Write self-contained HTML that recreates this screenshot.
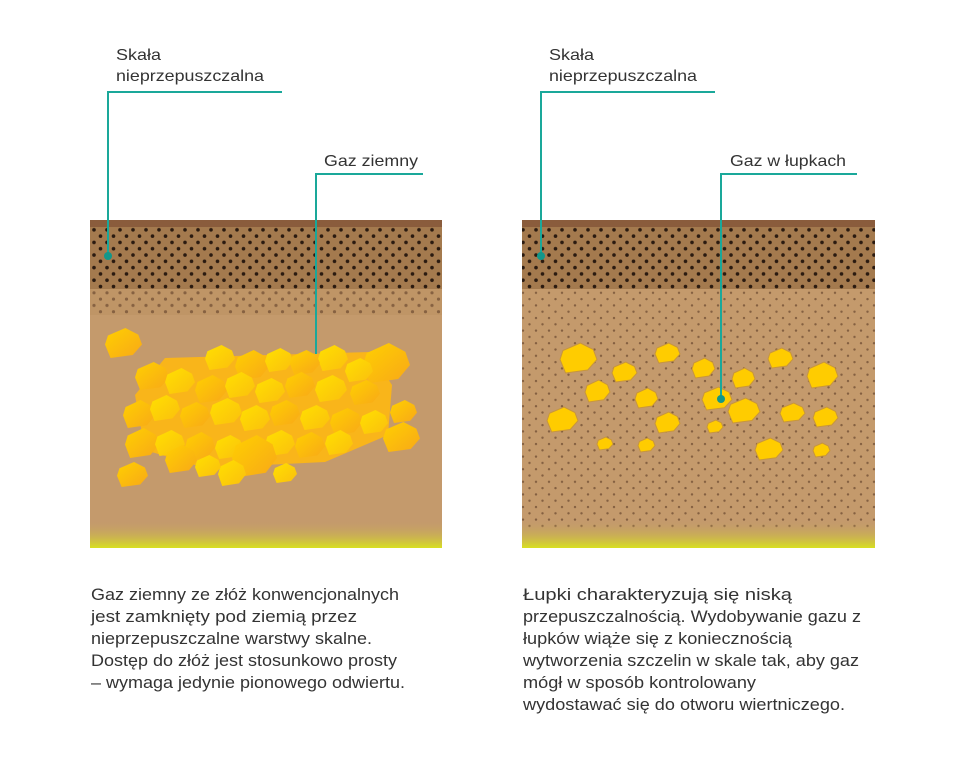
<!DOCTYPE html>
<html><head><meta charset="utf-8"><style>html,body{margin:0;padding:0;background:#fff}svg{display:block}</style></head>
<body>
<svg width="960" height="758" viewBox="0 0 960 758" xmlns="http://www.w3.org/2000/svg" font-family="Liberation Sans, Arial, sans-serif">
<defs>
<pattern id="pd" x="0" y="0" width="13" height="12.6" patternUnits="userSpaceOnUse">
<circle cx="3" cy="3" r="1.8" fill="#2a1a10"/><circle cx="9.5" cy="9.3" r="1.8" fill="#2a1a10"/></pattern>
<pattern id="pl" x="0" y="0" width="13" height="12.6" patternUnits="userSpaceOnUse">
<circle cx="3" cy="3" r="1.6" fill="#6e4c32" opacity="0.7"/><circle cx="9.5" cy="9.3" r="1.6" fill="#6e4c32" opacity="0.7"/></pattern>
<pattern id="ps" x="0" y="0" width="13" height="12.6" patternUnits="userSpaceOnUse">
<circle cx="3" cy="3" r="1.2" fill="#6e4c32" opacity="0.75"/><circle cx="9.5" cy="9.3" r="1.2" fill="#6e4c32" opacity="0.75"/></pattern>
<linearGradient id="yb" x1="0" y1="0" x2="0" y2="1"><stop offset="0" stop-color="#c49a6c" stop-opacity="0"/><stop offset="1" stop-color="#d8e020"/></linearGradient>
<linearGradient id="rg" x1="0" y1="0" x2="1" y2="1"><stop offset="0" stop-color="#ffd000"/><stop offset="1" stop-color="#f8a818"/></linearGradient>
<linearGradient id="rg2" x1="0" y1="0" x2="1" y2="1"><stop offset="0" stop-color="#ffe000"/><stop offset="1" stop-color="#fbbf0e"/></linearGradient>
<polygon id="r" points="0.08,0.25 0.55,0 0.9,0.22 1,0.55 0.75,0.9 0.15,1 0,0.55"/>
<polygon id="rs" points="0.08,0.25 0.55,0 0.9,0.22 1,0.55 0.75,0.9 0.15,1 0,0.55" fill="#ffcc00" stroke="#c8963c" stroke-width="1" vector-effect="non-scaling-stroke"/>
</defs>

<!-- left panel -->
<rect x="90" y="220" width="352" height="328" fill="#c49a6c"/>
<rect x="90" y="289" width="352" height="26" fill="#bf9566"/>
<rect x="90" y="289" width="352" height="26" fill="url(#pl)"/>
<rect x="90" y="227" width="352" height="62" fill="#a47a4e"/>
<rect x="90" y="227" width="352" height="62" fill="url(#pd)"/>
<rect x="90" y="220" width="352" height="7" fill="#8a5c3c"/>
<rect x="90" y="520" width="352" height="28" fill="url(#yb)"/>

<g>
<path d="M135,395 L165,358 L370,352 L392,385 L388,435 L325,462 L205,468 L145,450 Z" fill="#f9b51a"/>
<use href="#r" fill="url(#rg)" transform="translate(105,328) scale(37,30)"/>
<use href="#r" fill="url(#rg)" transform="translate(363,343) scale(47,40)"/>
<use href="#r" fill="url(#rg)" transform="translate(117,462) scale(31,25)"/>
<use href="#r" fill="url(#rg2)" transform="translate(273,463) scale(24,20)"/>
<use href="#r" fill="url(#rg)" transform="translate(383,422) scale(37,30)"/>
<use href="#r" fill="url(#rg)" transform="translate(390,400) scale(27,23)"/>
<use href="#r" fill="url(#rg2)" transform="translate(205,345) scale(30,25)"/>
<use href="#r" fill="url(#rg)" transform="translate(235,350) scale(34,30)"/>
<use href="#r" fill="url(#rg2)" transform="translate(265,348) scale(28,24)"/>
<use href="#r" fill="url(#rg)" transform="translate(290,350) scale(30,25)"/>
<use href="#r" fill="url(#rg2)" transform="translate(318,345) scale(30,26)"/>
<use href="#r" fill="url(#rg2)" transform="translate(345,358) scale(28,24)"/>
<use href="#r" fill="url(#rg)" transform="translate(135,362) scale(34,28)"/>
<use href="#r" fill="url(#rg2)" transform="translate(165,368) scale(30,26)"/>
<use href="#r" fill="url(#rg)" transform="translate(195,375) scale(32,28)"/>
<use href="#r" fill="url(#rg2)" transform="translate(225,372) scale(30,26)"/>
<use href="#r" fill="url(#rg2)" transform="translate(255,378) scale(30,25)"/>
<use href="#r" fill="url(#rg)" transform="translate(285,372) scale(30,26)"/>
<use href="#r" fill="url(#rg2)" transform="translate(315,375) scale(32,27)"/>
<use href="#r" fill="url(#rg)" transform="translate(350,380) scale(30,25)"/>
<use href="#r" fill="url(#rg)" transform="translate(123,400) scale(32,28)"/>
<use href="#r" fill="url(#rg2)" transform="translate(150,395) scale(30,26)"/>
<use href="#r" fill="url(#rg)" transform="translate(180,402) scale(30,26)"/>
<use href="#r" fill="url(#rg2)" transform="translate(210,398) scale(32,27)"/>
<use href="#r" fill="url(#rg2)" transform="translate(240,405) scale(30,26)"/>
<use href="#r" fill="url(#rg)" transform="translate(270,400) scale(30,26)"/>
<use href="#r" fill="url(#rg2)" transform="translate(300,405) scale(30,25)"/>
<use href="#r" fill="url(#rg)" transform="translate(330,408) scale(32,27)"/>
<use href="#r" fill="url(#rg2)" transform="translate(360,410) scale(28,24)"/>
<use href="#r" fill="url(#rg)" transform="translate(125,428) scale(34,30)"/>
<use href="#r" fill="url(#rg2)" transform="translate(155,430) scale(30,26)"/>
<use href="#r" fill="url(#rg)" transform="translate(185,432) scale(30,28)"/>
<use href="#r" fill="url(#rg2)" transform="translate(215,435) scale(28,24)"/>
<use href="#r" fill="url(#rg2)" transform="translate(265,430) scale(30,26)"/>
<use href="#r" fill="url(#rg)" transform="translate(295,432) scale(30,26)"/>
<use href="#r" fill="url(#rg2)" transform="translate(325,430) scale(28,25)"/>
<use href="#r" fill="url(#rg)" transform="translate(165,445) scale(32,28)"/>
<use href="#r" fill="url(#rg)" transform="translate(232,435) scale(45,42)"/>
<use href="#r" fill="url(#rg2)" transform="translate(218,460) scale(28,26)"/>
<use href="#r" fill="url(#rg2)" transform="translate(195,455) scale(26,22)"/>
<use href="#r" fill="url(#rg)" transform="translate(290,352) scale(30,20)"/>
</g>

<!-- right panel -->
<rect x="522" y="220" width="353" height="328" fill="#c49a6c"/>
<rect x="522" y="289" width="353" height="240" fill="url(#ps)"/>
<rect x="522" y="227" width="353" height="62" fill="#a47a4e"/>
<rect x="522" y="227" width="353" height="62" fill="url(#pd)"/>
<rect x="522" y="220" width="353" height="7" fill="#8a5c3c"/>
<rect x="522" y="520" width="353" height="28" fill="url(#yb)"/>
<g>
<use href="#rs" transform="translate(560,343) scale(37,30)"/>
<use href="#rs" transform="translate(655,343) scale(25,20)"/>
<use href="#rs" transform="translate(612,362) scale(25,20)"/>
<use href="#rs" transform="translate(692,358) scale(23,20)"/>
<use href="#rs" transform="translate(732,368) scale(23,20)"/>
<use href="#rs" transform="translate(768,348) scale(25,20)"/>
<use href="#rs" transform="translate(807,362) scale(31,26)"/>
<use href="#rs" transform="translate(585,380) scale(25,22)"/>
<use href="#rs" transform="translate(635,388) scale(23,20)"/>
<use href="#rs" transform="translate(702,387) scale(30,23)"/>
<use href="#rs" transform="translate(728,398) scale(32,25)"/>
<use href="#rs" transform="translate(547,407) scale(31,25)"/>
<use href="#rs" transform="translate(655,412) scale(25,21)"/>
<use href="#rs" transform="translate(780,403) scale(25,19)"/>
<use href="#rs" transform="translate(813,407) scale(25,20)"/>
<use href="#rs" transform="translate(707,420) scale(16,13)"/>
<use href="#rs" transform="translate(597,437) scale(16,13)"/>
<use href="#rs" transform="translate(638,438) scale(17,14)"/>
<use href="#rs" transform="translate(755,438) scale(28,22)"/>
<use href="#rs" transform="translate(813,443) scale(17,14)"/>
</g>

<!-- connectors -->
<g stroke="#1aa89a" stroke-width="2" fill="none">
<polyline points="282,92 108,92 108,255"/>
<polyline points="423,174 316,174 316,354"/>
<polyline points="715,92 541,92 541,255"/>
<polyline points="857,174 721,174 721,399"/>
</g>
<g fill="#12978a">
<circle cx="108" cy="256" r="4"/>
<circle cx="541" cy="256" r="4"/>
<circle cx="721" cy="399" r="4"/>
</g>

<!-- labels -->
<g fill="#333" font-size="16">
<text x="116" y="60" textLength="45" lengthAdjust="spacingAndGlyphs">Skała</text>
<text x="116" y="81" textLength="148" lengthAdjust="spacingAndGlyphs">nieprzepuszczalna</text>
<text x="324" y="166" textLength="94" lengthAdjust="spacingAndGlyphs">Gaz ziemny</text>
<text x="549" y="60" textLength="45" lengthAdjust="spacingAndGlyphs">Skała</text>
<text x="549" y="81" textLength="148" lengthAdjust="spacingAndGlyphs">nieprzepuszczalna</text>
<text x="730" y="166" textLength="116" lengthAdjust="spacingAndGlyphs">Gaz w łupkach</text>
</g>
<g fill="#333" font-size="16.5" lengthAdjust="spacingAndGlyphs">
<text x="91" y="600" textLength="308" lengthAdjust="spacingAndGlyphs">Gaz ziemny ze złóż konwencjonalnych</text>
<text x="91" y="622" textLength="266" lengthAdjust="spacingAndGlyphs">jest zamknięty pod ziemią przez</text>
<text x="91" y="644" textLength="281" lengthAdjust="spacingAndGlyphs">nieprzepuszczalne warstwy skalne.</text>
<text x="91" y="666" textLength="306" lengthAdjust="spacingAndGlyphs">Dostęp do złóż jest stosunkowo prosty</text>
<text x="91" y="688" textLength="314" lengthAdjust="spacingAndGlyphs">– wymaga jedynie pionowego odwiertu.</text>
<text x="523" y="600" textLength="269" lengthAdjust="spacingAndGlyphs">Łupki charakteryzują się niską</text>
<text x="523" y="622" textLength="338" lengthAdjust="spacingAndGlyphs">przepuszczalnością. Wydobywanie gazu z</text>
<text x="523" y="644" textLength="269" lengthAdjust="spacingAndGlyphs">łupków wiąże się z koniecznością</text>
<text x="523" y="666" textLength="336" lengthAdjust="spacingAndGlyphs">wytworzenia szczelin w skale tak, aby gaz</text>
<text x="523" y="688" textLength="233" lengthAdjust="spacingAndGlyphs">mógł w sposób kontrolowany</text>
<text x="523" y="710" textLength="322" lengthAdjust="spacingAndGlyphs">wydostawać się do otworu wiertniczego.</text>
</g>
</svg>
</body></html>
